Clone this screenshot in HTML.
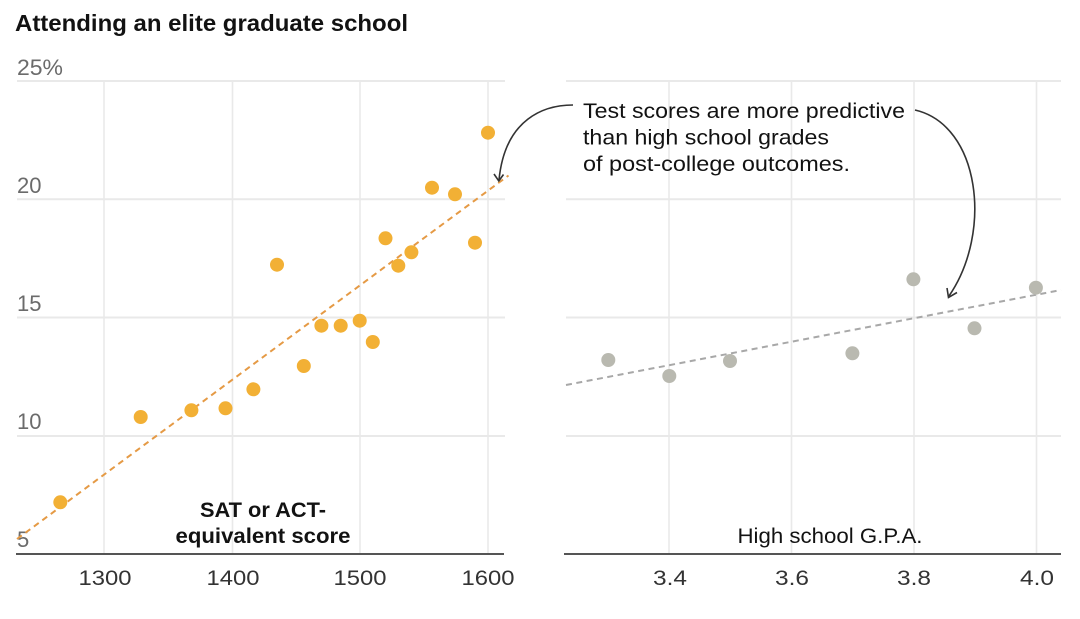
<!DOCTYPE html>
<html>
<head>
<meta charset="utf-8">
<style>
  html, body { margin: 0; padding: 0; background: #fff; }
  svg { display: block; }
  text { font-family: "Liberation Sans", Arial, sans-serif; }
</style>
</head>
<body>
<svg width="1080" height="619" viewBox="0 0 1080 619" xmlns="http://www.w3.org/2000/svg">
  <rect width="1080" height="619" fill="#fff"/>

  <!-- Title -->
  <text x="15" y="31" font-size="23" font-weight="bold" fill="#121212" textLength="393" lengthAdjust="spacingAndGlyphs">Attending an elite graduate school</text>

  <!-- Left panel grid -->
  <g stroke="#e9e9e9" stroke-width="2" fill="none">
    <line x1="17" y1="81" x2="505" y2="81"/>
    <line x1="17" y1="199.3" x2="505" y2="199.3"/>
    <line x1="17" y1="317.5" x2="505" y2="317.5"/>
    <line x1="17" y1="436" x2="505" y2="436"/>
  </g>
  <g stroke="#e9e9e9" stroke-width="1.6" fill="none">
    <line x1="104" y1="81" x2="104" y2="554"/>
    <line x1="232.5" y1="81" x2="232.5" y2="554"/>
    <line x1="360" y1="81" x2="360" y2="554"/>
    <line x1="488" y1="81" x2="488" y2="554"/>
  </g>

  <!-- Right panel grid -->
  <g stroke="#e9e9e9" stroke-width="2" fill="none">
    <line x1="566" y1="81" x2="1061" y2="81"/>
    <line x1="566" y1="199.3" x2="1061" y2="199.3"/>
    <line x1="566" y1="317.5" x2="1061" y2="317.5"/>
    <line x1="566" y1="436" x2="1061" y2="436"/>
  </g>
  <g stroke="#e9e9e9" stroke-width="1.6" fill="none">
    <line x1="669" y1="81" x2="669" y2="554"/>
    <line x1="791.5" y1="81" x2="791.5" y2="554"/>
    <line x1="914" y1="81" x2="914" y2="554"/>
    <line x1="1036.5" y1="81" x2="1036.5" y2="554"/>
  </g>

  <!-- Y labels -->
  <g font-size="22" fill="#6b6b6b">
    <text x="17" y="75" textLength="46" lengthAdjust="spacingAndGlyphs">25%</text>
    <text x="17" y="193">20</text>
    <text x="17" y="311">15</text>
    <text x="17" y="429">10</text>
    <text x="17" y="547">5</text>
  </g>

  <!-- Baselines -->
  <line x1="16" y1="554" x2="504" y2="554" stroke="#555" stroke-width="2"/>
  <line x1="564" y1="554" x2="1061" y2="554" stroke="#555" stroke-width="2"/>

  <!-- X labels left -->
  <g font-size="21" fill="#333" text-anchor="middle">
    <text x="105" y="585" textLength="53" lengthAdjust="spacingAndGlyphs">1300</text>
    <text x="233" y="585" textLength="53" lengthAdjust="spacingAndGlyphs">1400</text>
    <text x="360" y="585" textLength="53" lengthAdjust="spacingAndGlyphs">1500</text>
    <text x="488" y="585" textLength="53" lengthAdjust="spacingAndGlyphs">1600</text>
  </g>
  <!-- X labels right -->
  <g font-size="21" fill="#333" text-anchor="middle">
    <text x="670" y="585" textLength="34" lengthAdjust="spacingAndGlyphs">3.4</text>
    <text x="792" y="585" textLength="34" lengthAdjust="spacingAndGlyphs">3.6</text>
    <text x="914" y="585" textLength="34" lengthAdjust="spacingAndGlyphs">3.8</text>
    <text x="1037" y="585" textLength="34" lengthAdjust="spacingAndGlyphs">4.0</text>
  </g>

  <!-- Axis titles -->
  <g font-size="21" font-weight="bold" fill="#121212" text-anchor="middle">
    <text x="263" y="517" textLength="126" lengthAdjust="spacingAndGlyphs">SAT or ACT-</text>
    <text x="263" y="543" textLength="175" lengthAdjust="spacingAndGlyphs">equivalent score</text>
  </g>
  <text x="830" y="543" font-size="21" fill="#121212" text-anchor="middle" textLength="185" lengthAdjust="spacingAndGlyphs">High school G.P.A.</text>

  <!-- Left trend line -->
  <line x1="17" y1="539" x2="508.5" y2="175.5" stroke="#e59a45" stroke-width="2" stroke-dasharray="6,4.5"/>

  <!-- Right trend line -->
  <line x1="566" y1="385" x2="1061" y2="290" stroke="#a8a8a8" stroke-width="2" stroke-dasharray="6,4.5"/>

  <!-- Left dots -->
  <g fill="#f2b035">
    <circle cx="60.3" cy="502.3" r="7"/>
    <circle cx="140.7" cy="417" r="7"/>
    <circle cx="191.4" cy="410.3" r="7"/>
    <circle cx="225.5" cy="408.3" r="7"/>
    <circle cx="253.4" cy="389.3" r="7"/>
    <circle cx="277" cy="264.7" r="7"/>
    <circle cx="303.8" cy="366" r="7"/>
    <circle cx="321.4" cy="325.7" r="7"/>
    <circle cx="340.7" cy="325.7" r="7"/>
    <circle cx="359.7" cy="320.7" r="7"/>
    <circle cx="372.8" cy="342" r="7"/>
    <circle cx="385.5" cy="238.3" r="7"/>
    <circle cx="398.3" cy="265.7" r="7"/>
    <circle cx="411.4" cy="252.3" r="7"/>
    <circle cx="432" cy="187.7" r="7"/>
    <circle cx="455" cy="194.3" r="7"/>
    <circle cx="475" cy="242.7" r="7"/>
    <circle cx="488" cy="132.7" r="7"/>
  </g>

  <!-- Right dots -->
  <g fill="#b9b9b0">
    <circle cx="608.3" cy="360" r="7"/>
    <circle cx="669.3" cy="376" r="7"/>
    <circle cx="730" cy="361" r="7"/>
    <circle cx="852.4" cy="353.3" r="7"/>
    <circle cx="913.4" cy="279.3" r="7"/>
    <circle cx="974.5" cy="328.3" r="7"/>
    <circle cx="1035.9" cy="287.7" r="7"/>
  </g>

  <!-- Annotation -->
  <g font-size="21.5" fill="#121212">
    <text x="583" y="118" textLength="322" lengthAdjust="spacingAndGlyphs">Test scores are more predictive</text>
    <text x="583" y="144.5" textLength="246" lengthAdjust="spacingAndGlyphs">than high school grades</text>
    <text x="583" y="171" textLength="267" lengthAdjust="spacingAndGlyphs">of post-college outcomes.</text>
  </g>

  <!-- Left arrow -->
  <path d="M573,105 C545,105 505,118 499,180" fill="none" stroke="#333" stroke-width="1.6"/>
  <path d="M494,174 L498.8,181 L503.5,174.5" fill="none" stroke="#333" stroke-width="1.6"/>

  <!-- Right arrow -->
  <path d="M915,110 C980,125 993,232 949,296" fill="none" stroke="#333" stroke-width="1.6"/>
  <path d="M947,288 L948.5,297.5 L957,292.5" fill="none" stroke="#333" stroke-width="1.6"/>
</svg>
</body>
</html>
